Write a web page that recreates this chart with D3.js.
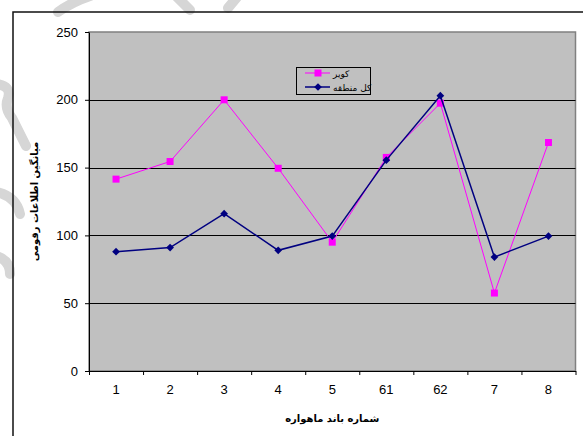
<!DOCTYPE html>
<html>
<head>
<meta charset="utf-8">
<script src="https://cdn.jsdelivr.net/npm/d3@7"></script>
<style>
  html, body { margin: 0; padding: 0; background: #fff; }
  svg { display: block; }
</style>
</head>
<body>
<svg id="chart" width="583" height="436"></svg>
<script>
// ---- data ----
const categories = ["1", "2", "3", "4", "5", "61", "62", "7", "8"];
const kavirValues = [141.5, 154.5, 200, 149.5, 95, 157.5, 197.5, 57.5, 168.5];
const regionValues = [88, 91, 116, 89, 99.5, 155.5, 203, 84, 99.5];
const yTicks = [0, 50, 100, 150, 200, 250];
const seriesNames = ["کویر", "کل منطقه"];
const xTitle = "شماره باند ماهواره";
const yTitle = "میانگین اطلاعات رقومی";

// ---- layout ----
const svg = d3.select("#chart");
const plot = { left: 89, right: 575.5, top: 32, bottom: 371 };
const font = "'Liberation Sans', Arial, 'DejaVu Sans', sans-serif";

// watermark (light gray decorative strokes)
const wm = svg.append("g").attr("fill", "none").attr("stroke", "#d6d6d6")
  .attr("stroke-width", 10).attr("stroke-linecap", "round");
wm.append("path").attr("d", "M58,12 Q72,2 90,-4");
wm.append("path").attr("d", "M176,-4 L190,10");
wm.append("path").attr("d", "M228,8 L238,-4");
wm.append("path").attr("d", "M-4,84 Q12,86 8,98 Q4,108 12,118 L26,146");
wm.append("path").attr("d", "M-4,192 Q16,196 20,214");
wm.append("path").attr("d", "M-4,256 Q10,260 10,274");

// outer chart border
svg.append("rect").attr("x", 13).attr("y", 12).attr("width", 600).attr("height", 460)
  .attr("fill", "none").attr("stroke", "#111").attr("stroke-width", 1.5);

const x = d3.scaleBand().domain(categories).range([plot.left, plot.right]).padding(0);
const xEdge = d3.scaleLinear().domain([0, categories.length]).range([plot.left, plot.right]);
const y = d3.scaleLinear().domain([0, 250]).range([plot.bottom, plot.top]);
const cx = c => x(c) + x.bandwidth() / 2;

// plot area
svg.append("rect").attr("x", plot.left).attr("y", plot.top)
  .attr("width", plot.right - plot.left).attr("height", plot.bottom - plot.top)
  .attr("fill", "#c0c0c0").attr("stroke", "#808080").attr("stroke-width", 1.5);

// gridlines
svg.append("g").selectAll("line").data(yTicks.filter(t => t > 0 && t < 250)).join("line")
  .attr("x1", plot.left).attr("x2", plot.right)
  .attr("y1", d => Math.round(y(d)) + 0.5).attr("y2", d => Math.round(y(d)) + 0.5)
  .attr("stroke", "#000").attr("stroke-width", 1);

// y axis
const yAxis = svg.append("g").attr("transform", `translate(${plot.left},0)`)
  .call(d3.axisLeft(y).tickValues(yTicks).tickSize(4).tickPadding(7).tickSizeOuter(0));
yAxis.select(".domain").attr("stroke", "#000");
yAxis.selectAll("line").attr("stroke", "#000");
yAxis.selectAll("text").attr("font-family", font).attr("font-size", 13).attr("fill", "#000");

// x axis: tick marks at band edges
const xTickAxis = svg.append("g").attr("transform", `translate(0,${plot.bottom})`)
  .call(d3.axisBottom(xEdge).tickValues(d3.range(categories.length + 1)).tickFormat("").tickSize(4).tickSizeOuter(0));
xTickAxis.select(".domain").attr("stroke", "#000");
xTickAxis.selectAll("line").attr("stroke", "#000");

// x labels
const xLabelAxis = svg.append("g").attr("transform", `translate(0,${plot.bottom})`)
  .call(d3.axisBottom(x).tickSize(0).tickPadding(14));
xLabelAxis.select(".domain").remove();
xLabelAxis.selectAll("text").attr("font-family", font).attr("font-size", 13).attr("fill", "#000");

// axis titles
svg.append("text").attr("x", (plot.left + plot.right) / 2).attr("y", 422)
  .attr("text-anchor", "middle").attr("font-family", "'DejaVu Sans', sans-serif")
  .attr("font-size", 10).attr("font-weight", "bold").text(xTitle);
svg.append("text").attr("transform", `translate(38,${(plot.top + plot.bottom) / 2}) rotate(-90)`)
  .attr("text-anchor", "middle").attr("font-family", "'DejaVu Sans', sans-serif")
  .attr("font-size", 10).attr("font-weight", "bold").text(yTitle);

// series
const series = [
  { name: seriesNames[0], values: kavirValues, color: "#ff00ff", width: 1, shape: "square" },
  { name: seriesNames[1], values: regionValues, color: "#000080", width: 1.5, shape: "diamond" }
];
const line = d3.line().x((d, i) => cx(categories[i])).y(d => y(d));
const squareSym = d3.symbol().type(d3.symbolSquare).size(49);
const diamondSym = d3.symbol().type(d3.symbolSquare).size(30);

function drawMarker(g, s, px, py) {
  if (s.shape === "square") {
    g.append("path").attr("d", squareSym()).attr("transform", `translate(${px},${py})`)
      .attr("fill", s.color);
  } else {
    g.append("path").attr("d", diamondSym()).attr("transform", `translate(${px},${py}) rotate(45)`)
      .attr("fill", s.color);
  }
}

series.forEach(s => {
  const g = svg.append("g");
  g.append("path").datum(s.values).attr("d", line)
    .attr("fill", "none").attr("stroke", s.color).attr("stroke-width", s.width);
  s.values.forEach((v, i) => drawMarker(g, s, cx(categories[i]), y(v)));
});

// legend
const lg = svg.append("g");
lg.append("rect").attr("x", 296.5).attr("y", 67.5).attr("width", 74).attr("height", 27)
  .attr("fill", "#c0c0c0").attr("stroke", "#000").attr("stroke-width", 1);
series.forEach((s, i) => {
  const ly = 73 + i * 14;
  lg.append("line").attr("x1", 305).attr("x2", 330).attr("y1", ly).attr("y2", ly)
    .attr("stroke", s.color).attr("stroke-width", s.width);
  drawMarker(lg, s, 318, ly);
  lg.append("text").attr("x", 333).attr("y", ly + 3.5)
    .attr("font-family", "'DejaVu Sans', sans-serif").attr("font-size", 9).text(s.name);
});
</script>
</body>
</html>
